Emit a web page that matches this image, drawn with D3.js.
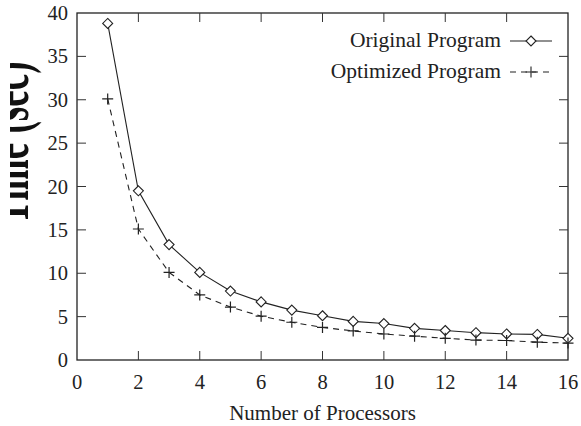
<!DOCTYPE html>
<html>
<head>
<meta charset="utf-8">
<script src="https://cdn.jsdelivr.net/npm/d3@7"></script>
<style>
  body { margin: 0; background: #fff; }
</style>
</head>
<body>
<div id="chart"></div>
<script>
// processors on the x axis
const processors = [1, 2, 3, 4, 5, 6, 7, 8, 9, 10, 11, 12, 13, 14, 15, 16];
// run times (seconds)
const originalTimes = [38.8, 19.5, 13.3, 10.1, 7.95, 6.7, 5.75, 5.1, 4.45, 4.2, 3.65, 3.4, 3.15, 3.0, 2.95, 2.5];
const optimizedTimes = [30.1, 15.1, 10.1, 7.5, 6.1, 5.05, 4.35, 3.75, 3.35, 3.0, 2.75, 2.5, 2.3, 2.25, 2.05, 1.95];
const xTicks = [0, 2, 4, 6, 8, 10, 12, 14, 16];
const yTicks = [0, 5, 10, 15, 20, 25, 30, 35, 40];
const seriesNames = ['Original Program', 'Optimized Program'];

const W = 581, H = 426;
const margin = { left: 77, right: 13, top: 13, bottom: 66 };
const innerW = W - margin.left - margin.right;
const innerH = H - margin.top - margin.bottom;
const TICK = 9;
const FONT = "'Liberation Serif', 'Times New Roman', serif";

const svg = d3.select('#chart').append('svg')
  .attr('width', W)
  .attr('height', H)
  .attr('font-family', FONT)
  .style('display', 'block');

const x = d3.scaleLinear().domain([0, 16]).range([margin.left, margin.left + innerW]);
const y = d3.scaleLinear().domain([0, 40]).range([margin.top + innerH, margin.top]);

// frame
svg.append('rect')
  .attr('x', margin.left)
  .attr('y', margin.top)
  .attr('width', innerW)
  .attr('height', innerH)
  .attr('fill', 'none')
  .attr('stroke', '#222')
  .attr('stroke-width', 1.3);

// inward ticks on all four sides
const tickG = svg.append('g').attr('stroke', '#333').attr('stroke-width', 1);
xTicks.slice(1, -1).forEach(t => {
  tickG.append('line').attr('x1', x(t)).attr('x2', x(t))
    .attr('y1', y(0)).attr('y2', y(0) - TICK);
  tickG.append('line').attr('x1', x(t)).attr('x2', x(t))
    .attr('y1', y(40)).attr('y2', y(40) + TICK);
});
yTicks.slice(1, -1).forEach(t => {
  tickG.append('line').attr('x1', x(0)).attr('x2', x(0) + TICK)
    .attr('y1', y(t)).attr('y2', y(t));
  tickG.append('line').attr('x1', x(16)).attr('x2', x(16) - TICK)
    .attr('y1', y(t)).attr('y2', y(t));
});

// tick labels
svg.append('g')
  .selectAll('text')
  .data(xTicks)
  .join('text')
  .attr('x', d => x(d))
  .attr('y', y(0) + 29)
  .attr('text-anchor', 'middle')
  .attr('font-size', 20.5)
  .attr('fill', '#222')
  .text(d => d);

svg.append('g')
  .selectAll('text')
  .data(yTicks)
  .join('text')
  .attr('x', x(0) - 9)
  .attr('y', d => y(d) + 7)
  .attr('text-anchor', 'end')
  .attr('font-size', 20.5)
  .attr('fill', '#222')
  .text(d => d);

// axis titles
svg.append('text')
  .attr('x', x(8))
  .attr('y', 420)
  .attr('text-anchor', 'middle')
  .attr('font-size', 21)
  .attr('fill', '#222')
  .text('Number of Processors');

// y title is drawn oversized and cut off on the left, like the source image
svg.append('clipPath').attr('id', 'ylab-clip')
  .append('rect').attr('x', 10).attr('y', 0).attr('width', 40).attr('height', H);

svg.append('g')
  .attr('clip-path', 'url(#ylab-clip)')
  .append('text')
  .attr('transform', `translate(28, 143) rotate(-90)`)
  .attr('text-anchor', 'middle')
  .attr('font-size', 64)
  .attr('font-weight', 'bold')
  .attr('textLength', 163)
  .attr('lengthAdjust', 'spacingAndGlyphs')
  .attr('fill', '#111')
  .text('Time (sec)');

// lines
const line = d3.line().x((d, i) => x(processors[i])).y(d => y(d));

svg.append('path')
  .datum(originalTimes)
  .attr('d', line)
  .attr('fill', 'none')
  .attr('stroke', '#222')
  .attr('stroke-width', 1.1);

svg.append('path')
  .datum(optimizedTimes)
  .attr('d', line)
  .attr('fill', 'none')
  .attr('stroke', '#222')
  .attr('stroke-width', 1.1)
  .attr('stroke-dasharray', '6,5');

// markers
const diamond = (cx, cy) => {
  const s = 5;
  return `M${cx},${cy - s}L${cx + s},${cy}L${cx},${cy + s}L${cx - s},${cy}Z`;
};
const plus = (cx, cy) => {
  const s = 5.5;
  return `M${cx - s},${cy}H${cx + s}M${cx},${cy - s}V${cy + s}`;
};

svg.append('g')
  .selectAll('path')
  .data(originalTimes)
  .join('path')
  .attr('d', (d, i) => diamond(x(processors[i]), y(d)))
  .attr('fill', '#fff')
  .attr('stroke', '#222')
  .attr('stroke-width', 1.1);

svg.append('g')
  .selectAll('path')
  .data(optimizedTimes)
  .join('path')
  .attr('d', (d, i) => plus(x(processors[i]), y(d)))
  .attr('fill', 'none')
  .attr('stroke', '#222')
  .attr('stroke-width', 1.2);

// legend
const legend = svg.append('g');
const legendRows = [
  { name: seriesNames[0], ty: 47, ly: 41, dash: null, marker: diamond, fill: '#fff' },
  { name: seriesNames[1], ty: 78, ly: 72, dash: '6,5', marker: plus, fill: 'none' },
];
legendRows.forEach(r => {
  legend.append('text')
    .attr('x', 501)
    .attr('y', r.ty)
    .attr('text-anchor', 'end')
    .attr('font-size', 21.5)
    .attr('fill', '#222')
    .text(r.name);
  legend.append('line')
    .attr('x1', 510).attr('x2', 552)
    .attr('y1', r.ly).attr('y2', r.ly)
    .attr('stroke', '#222')
    .attr('stroke-width', 1.1)
    .attr('stroke-dasharray', r.dash);
  legend.append('path')
    .attr('d', r.marker(531, r.ly))
    .attr('fill', r.fill)
    .attr('stroke', '#222')
    .attr('stroke-width', 1.1);
});
</script>
</body>
</html>
